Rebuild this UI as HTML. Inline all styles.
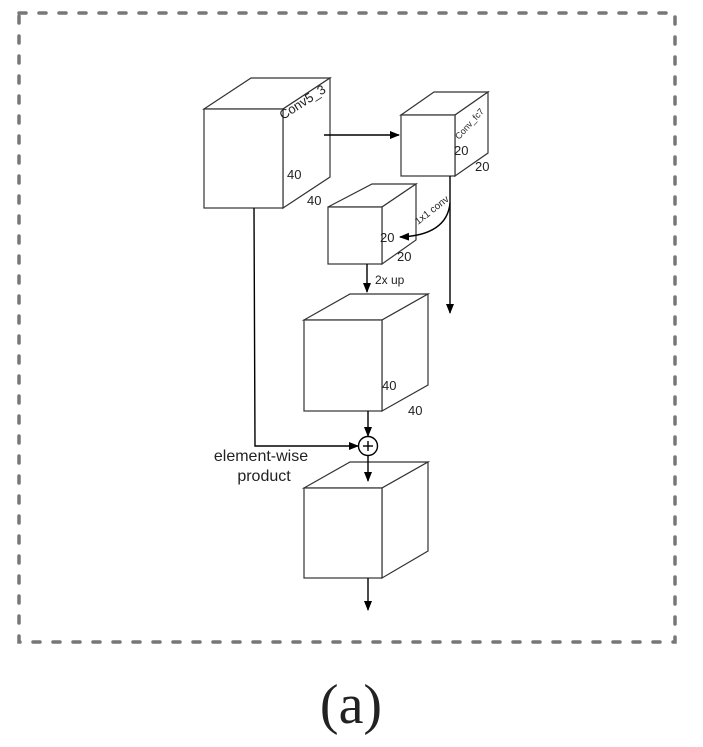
<!DOCTYPE html>
<html><head><meta charset="utf-8"><style>
html,body{margin:0;padding:0;background:#fff;}
svg{display:block;}
text{font-family:"Liberation Sans",sans-serif;fill:#222;}
</style></head><body>
<svg width="703" height="747" viewBox="0 0 703 747" xmlns="http://www.w3.org/2000/svg">
<defs>
<marker id="ah" markerWidth="10" markerHeight="8" refX="9" refY="4" orient="auto" markerUnits="userSpaceOnUse">
<path d="M0,0 L10,4 L0,8 z" fill="#000"/>
</marker>
</defs>
<rect x="19" y="13" width="656" height="629" fill="none" stroke="#777" stroke-width="3.5" stroke-dasharray="7 13" stroke-linecap="round"/>
<g fill="#fff" stroke="#333" stroke-width="1.2">
<path d="M204,109 L251,78 L330,78 L283,109 Z"/>
<path d="M283,109 L330,78 L330,177 L283,208 Z"/>
<rect x="204" y="109" width="79" height="99"/>
<path d="M401,115 L434,92 L488,92 L455,115 Z"/>
<path d="M455,115 L488,92 L488,153 L455,176 Z"/>
<rect x="401" y="115" width="54" height="61"/>
<path d="M328,207 L372,184 L416,184 L382,207 Z"/>
<path d="M382,207 L416,184 L416,240 L382,264 Z"/>
<rect x="328" y="207" width="54" height="57"/>
<path d="M304,320 L350,294 L428,294 L382,320 Z"/>
<path d="M382,320 L428,294 L428,385 L382,411 Z"/>
<rect x="304" y="320" width="78" height="91"/>
<path d="M304,488 L350,462 L428,462 L382,488 Z"/>
<path d="M382,488 L428,462 L428,551 L382,578 Z"/>
<rect x="304" y="488" width="78" height="90"/>
</g>
<g stroke="#000" stroke-width="1.4" fill="none">
<line x1="324" y1="135" x2="399" y2="135" marker-end="url(#ah)"/>
<line x1="450" y1="176" x2="450" y2="313" marker-end="url(#ah)"/>
<path d="M450,203 C448,225 430,236 400,237" marker-end="url(#ah)"/>
<line x1="367" y1="264" x2="367" y2="292" marker-end="url(#ah)"/>
<line x1="368" y1="411" x2="368" y2="436" marker-end="url(#ah)"/>
<path d="M254,208 L255,446 L358,446" marker-end="url(#ah)"/>
<line x1="368" y1="456" x2="368" y2="481" marker-end="url(#ah)"/>
<line x1="368" y1="578" x2="368" y2="610" marker-end="url(#ah)"/>
<circle cx="368" cy="446" r="9.5" fill="#fff"/>
<line x1="363" y1="446" x2="373" y2="446"/>
<line x1="368" y1="441" x2="368" y2="451"/>
</g>
<text x="283" y="120" font-size="13" transform="rotate(-33 283 120)">Conv5_3</text>
<text x="459" y="140" font-size="9" transform="rotate(-48 459 140)">Conv_fc7</text>
<text x="454" y="155" font-size="13">20</text>
<text x="475" y="171" font-size="13">20</text>
<text x="287" y="179" font-size="13">40</text>
<text x="307" y="205" font-size="13">40</text>
<text x="380" y="242" font-size="13">20</text>
<text x="397" y="261" font-size="13">20</text>
<text x="418" y="225" font-size="10" transform="rotate(-38 418 225)">1x1 conv</text>
<text x="375" y="284" font-size="12">2x up</text>
<text x="382" y="390" font-size="13">40</text>
<text x="408" y="415" font-size="13">40</text>
<text x="261" y="461" font-size="16" text-anchor="middle">element-wise</text>
<text x="264" y="481" font-size="16" text-anchor="middle">product</text>
<text x="351" y="723" font-size="56" text-anchor="middle" style="font-family:'Liberation Serif',serif">(a)</text>
</svg>
</body></html>
